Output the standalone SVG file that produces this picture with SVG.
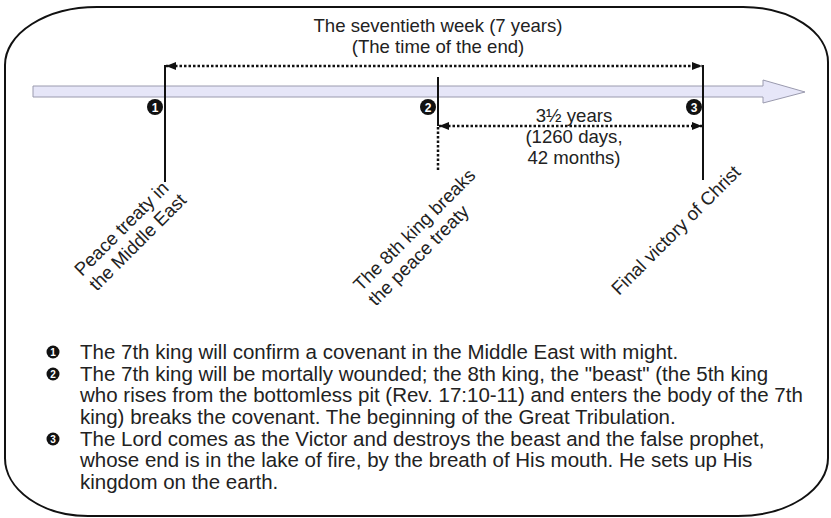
<svg xmlns="http://www.w3.org/2000/svg" width="831" height="518" viewBox="0 0 831 518">
<style>
text{font-family:"Liberation Sans",Arial,sans-serif;fill:#222}
.t18{font-size:18.6px}
.note{font-size:20.5px}
.solid{stroke:#111;stroke-width:2;fill:none}
.dot{stroke:#111;stroke-width:2.5;stroke-dasharray:2.5 2;fill:none}
.num{font-family:"Liberation Sans",Arial,sans-serif;font-weight:bold;fill:#fff;text-anchor:middle}
</style>
<defs>
<marker id="ah" viewBox="0 0 10 8" refX="10" refY="4" markerWidth="10" markerHeight="8" markerUnits="userSpaceOnUse" orient="auto-start-reverse">
<path d="M0,0 L10,4 L0,8 Z" fill="#111"/>
</marker>
</defs>
<rect width="831" height="518" fill="#fff"/>
<path id="frame" d="M97,7 L743,7 A85,55 0 0 1 828,62 L828,458 A90,58 0 0 1 738,516 L88,516 A83,58 0 0 1 5,458 L5,65 A92,58 0 0 1 97,7 Z" fill="#fff" stroke="#111" stroke-width="2"/>
<g id="title">
<text class="t18" x="438" y="32" text-anchor="middle">The seventieth week (7 years)</text>
<text class="t18" x="438" y="53" text-anchor="middle">(The time of the end)</text>
</g>
<g id="timeline">
<polygon points="33,86 763,86 763,80 805,92 763,103 763,97 33,97" fill="#e6e6f8" stroke="#9a9aae" stroke-width="1"/>
</g>
<g id="connectors">
<line class="solid" x1="165" y1="65" x2="165" y2="182"/>
<line class="solid" x1="703" y1="65" x2="703" y2="180"/>
<line class="solid" x1="438" y1="77" x2="438" y2="126"/>
<line class="dot" x1="438" y1="127" x2="438" y2="172"/>
<line class="dot" x1="166" y1="66" x2="702" y2="66" marker-start="url(#ah)" marker-end="url(#ah)"/>
<line class="dot" x1="439" y1="126" x2="702" y2="126" marker-start="url(#ah)" marker-end="url(#ah)"/>
</g>
<g id="marker1">
<circle cx="155" cy="107" r="8" fill="#111"/>
<text class="num" x="155" y="111.5" font-size="12">1</text>
</g>
<g id="marker2">
<circle cx="428" cy="107" r="8" fill="#111"/>
<text class="num" x="428" y="111.5" font-size="12">2</text>
</g>
<g id="marker3">
<circle cx="694" cy="107" r="8" fill="#111"/>
<text class="num" x="694" y="111.5" font-size="12">3</text>
</g>
<g id="span-label">
<text class="t18" x="574" y="122" text-anchor="middle">3½ years</text>
<text class="t18" x="574" y="143" text-anchor="middle">(1260 days,</text>
<text class="t18" x="574" y="164" text-anchor="middle">42 months)</text>
</g>
<g id="label1" transform="translate(82,277) rotate(-45)">
<text class="t18" x="0" y="0">Peace treaty in</text>
<text class="t18" x="0" y="21">the Middle East</text>
</g>
<g id="label2" transform="translate(361,292) rotate(-45)">
<text class="t18" x="0" y="0">The 8th king breaks</text>
<text class="t18" x="0" y="21">the peace treaty</text>
</g>
<g id="label3" transform="translate(619,296) rotate(-45)">
<text class="t18" x="0" y="0">Final victory of Christ</text>
</g>
<g id="notes">
<circle cx="53" cy="352" r="6.5" fill="#111"/>
<text class="num" x="53" y="356" font-size="10">1</text>
<circle cx="53" cy="374" r="6.5" fill="#111"/>
<text class="num" x="53" y="378" font-size="10">2</text>
<circle cx="53" cy="439" r="6.5" fill="#111"/>
<text class="num" x="53" y="443" font-size="10">3</text>
<text class="note" x="80" y="359">The 7th king will confirm a covenant in the Middle East with might.</text>
<text class="note" x="80" y="381">The 7th king will be mortally wounded; the 8th king, the "beast" (the 5th king</text>
<text class="note" x="80" y="402">who rises from the bottomless pit (Rev. 17:10-11) and enters the body of the 7th</text>
<text class="note" x="80" y="424">king) breaks the covenant. The beginning of the Great Tribulation.</text>
<text class="note" x="80" y="446">The Lord comes as the Victor and destroys the beast and the false prophet,</text>
<text class="note" x="80" y="467">whose end is in the lake of fire, by the breath of His mouth. He sets up His</text>
<text class="note" x="80" y="489">kingdom on the earth.</text>
</g>
</svg>
